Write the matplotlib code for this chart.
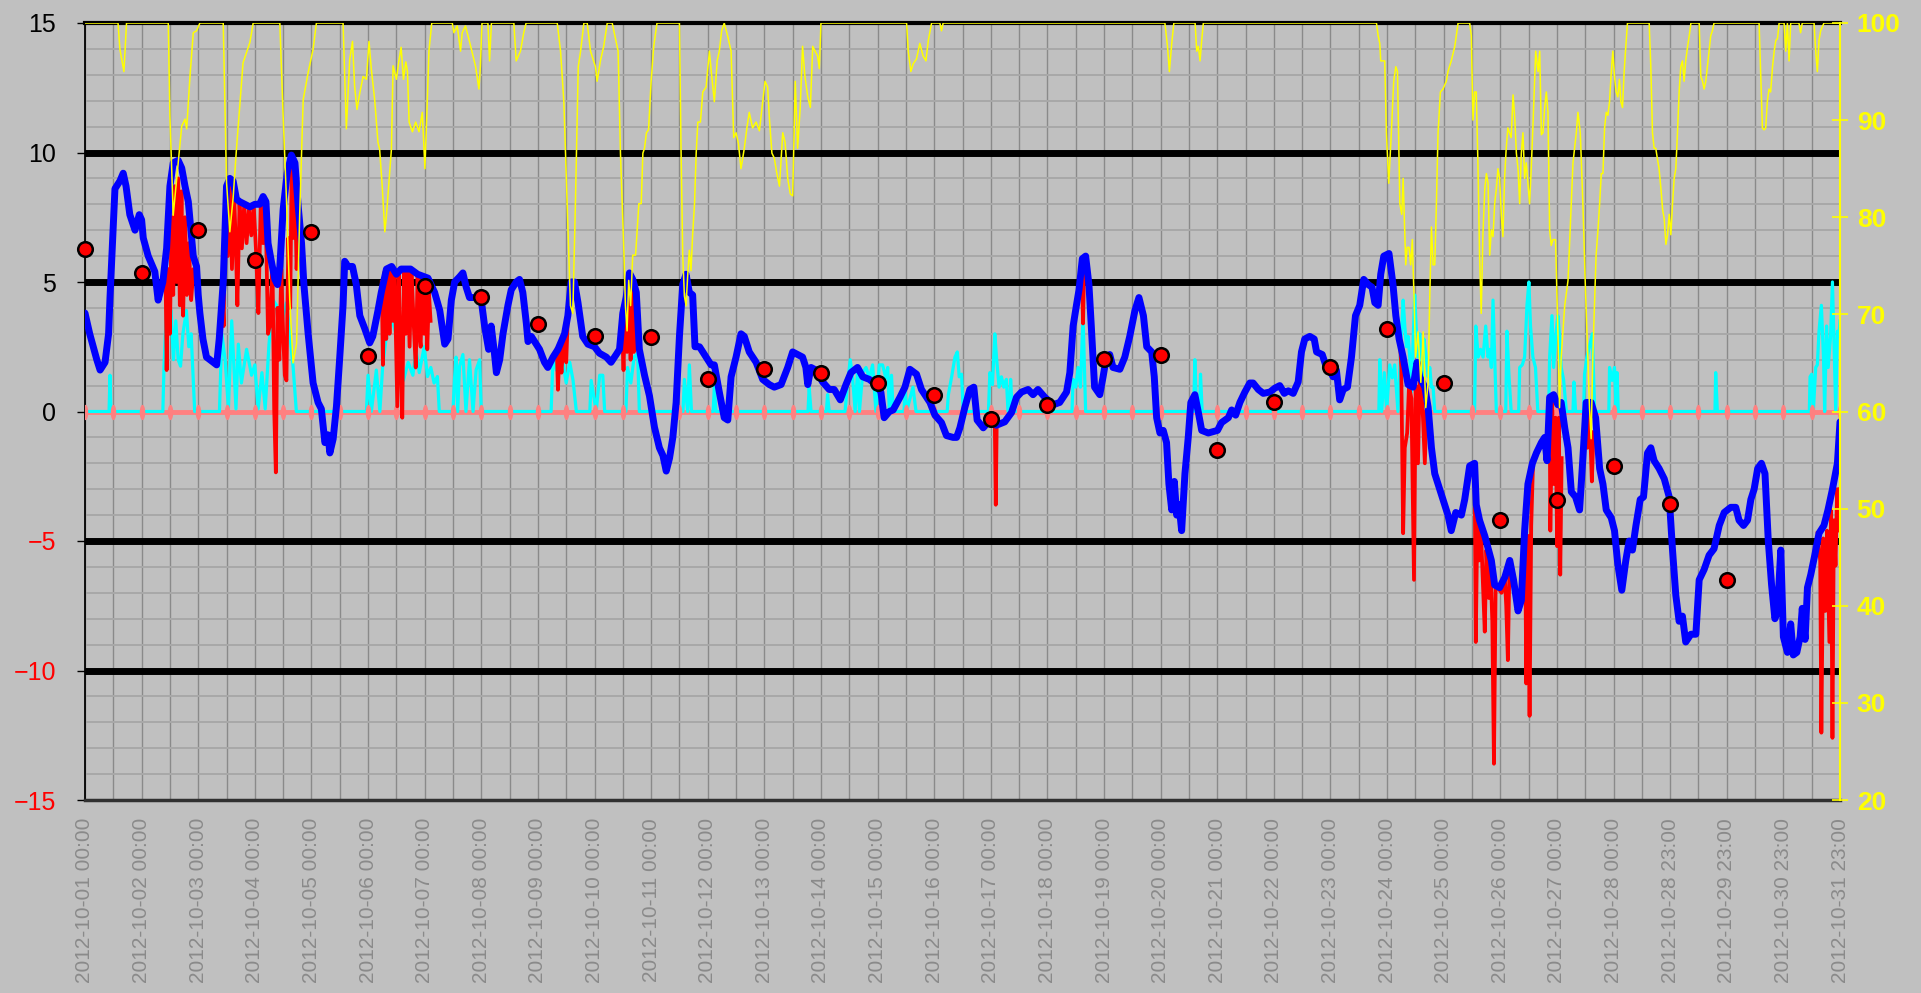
import numpy as np
import matplotlib
matplotlib.use('Agg')
from matplotlib import pyplot as plt
from matplotlib.path import Path

plt.rcParams['font.family'] = ['Liberation Sans', 'DejaVu Sans']

# x values are hours since 2012-10-01 00:00 (31 daily ticks, 744 h)
tick_labels = ['2012-10-%02d 00:00' % d for d in range(1, 29)] + \
    ['2012-10-28 23:00', '2012-10-29 23:00', '2012-10-30 23:00', '2012-10-31 23:00']

# daily mean (red dots)
daily_mean = [6.26, 5.36, 7.02, 5.84, 6.92, 2.15, 4.84, 4.42, 3.38, 2.91, 2.86, 1.25, 1.63, 1.49, 1.11,
              0.64, -0.30, 0.26, 2.01, 2.20, -1.49, 0.36, 1.73, 3.19, 1.11, -4.18, -3.42, -2.10, -3.56, -6.49]

# blue temperature
blue = [(0,3.8),(2,3.0),(5,2.0),(6.4,1.6),(8.5,1.9),(10,3.0),(10.6,4.4),(12.7,8.6),(14.8,8.9),(16.2,9.2),(17.4,8.7),
        (19,7.6),(21.2,7.0),(23,7.6),(24,7.4),(24.7,6.7),(26.8,6.0),(29.6,5.4),(31,4.3),(33,5.0),(34.6,6.3),(36,8.7),
        (37.4,9.6),(39.5,9.7),(41,9.4),(42.4,8.7),(43.8,8.1),(45.9,6.0),(47.3,5.6),(48,4.5),(48.7,3.8),(50,2.8),
        (51.5,2.1),(54.4,1.9),(55.8,1.8),(56.9,2.8),(57.9,4.1),(58.6,5.0),(60,8.7),(61.4,9.0),(62.8,8.9),(64.2,8.2),
        (65.6,8.1),(69.9,7.9),(72,8.0),(74,8.0),(75.5,8.3),(76.7,8.1),(77.6,6.5),(79,5.8),(80.5,5.1),(81.6,4.9),
        (82.6,5.6),(84,7.8),(85.7,9.2),(87.5,9.9),(89,9.6),(90.4,7.9),(91.8,6.5),(92.8,4.9),(94.6,3.0),(96.7,1.1),
        (98.8,0.35),(100.2,0.1),(101.7,-1.2),(103,-0.9),(103.8,-1.6),(105.2,-1.06),(106.6,0.2),(108,2.1),(109.4,4.1),
        (110.1,5.8),(111.5,5.6),(113.4,5.6),(115,4.9),(116.5,3.7),(118.6,3.2),(120.7,2.65),(122,2.9),(124.2,3.9),
        (125.6,4.6),(127.8,5.5),(130,5.6),(132,5.3),(134,5.5),(138,5.5),(141,5.3),(145.4,5.15),(148.2,4.6),(150.4,3.9),
        (152.5,2.6),(153.9,2.8),(155.3,4.3),(156.7,5.0),(158.8,5.2),(160.2,5.35),(161.6,4.8),(163,4.4),(165.2,4.4),
        (168,4.3),(169.4,3.3),(171.1,2.4),(172.2,3.3),(173.4,2.4),(174.4,1.5),(175.8,2.0),(177.2,3.0),(179.3,4.1),
        (180.7,4.7),(182.8,5.0),(184.2,5.1),(185.6,4.6),(187.1,3.4),(187.8,2.7),(189.2,2.9),(190.6,2.7),(192.7,2.4),
        (194.8,1.9),(196.2,1.7),(198.4,2.1),(200.5,2.4),(203.3,3.0),(204.7,3.7),(206.1,5.0),(207.5,5.0),(209,4.2),
        (211,2.9),(213.2,2.6),(216,2.5),(218.1,2.25),(221,2.1),(223,1.9),(225.2,2.2),(226.6,2.4),(228,3.8),(229.4,4.4),
        (230.8,5.35),(232.2,5.1),(233.7,4.6),(235,2.4),(237.2,1.4),(239.3,0.6),(241.4,-0.6),(243.5,-1.4),(245,-1.7),
        (246.4,-2.3),(247.8,-1.8),(249.2,-1.0),(250.6,0.35),(252,2.9),(253.4,4.9),(254.8,5.3),(256.2,4.6),(257.6,4.5),
        (258.6,2.5),(260.5,2.5),(261.9,2.3),(263.3,2.1),(265.4,1.8),(266.8,1.8),(268.9,0.75),(271,-0.24),(272.5,-0.33),
        (273.9,1.34),(276,2.1),(278.1,3.0),(279.5,2.9),(281.6,2.3),(284.5,1.9),(287.3,1.24),(290.1,1.04),(292.2,0.94),
        (295.1,1.04),(297.9,1.7),(300,2.3),(302.1,2.2),(304.2,2.1),(305.6,1.7),(306.4,1.04),(307.8,1.7),(309.9,1.6),
        (312.7,1.14),(315.5,0.85),(317.6,0.85),(320.2,0.45),(322.6,1.04),(324.7,1.5),(327.5,1.7),(329.7,1.34),
        (332.5,1.24),(335.3,1.04),(337.4,0.75),(338.8,-0.24),(341,0.0),(342.6,0.06),(345.5,0.55),(347.6,0.94),
        (349.7,1.63),(352.5,1.44),(354.6,0.85),(358.2,0.35),(360.3,-0.14),(363.1,-0.43),(365.2,-0.93),(368,-1.0),
        (369.5,-1.0),(370.9,-0.63),(373,0.16),(375.1,0.85),(376.8,0.94),(378.2,-0.33),(380.8,-0.63),(383.6,-0.33),
        (386.4,-0.53),(389.9,-0.4),(392.8,-0.04),(394.9,0.55),(397,0.75),(399.8,0.85),(401.9,0.65),(404,0.85),
        (406.9,0.55),(410.4,0.26),(413.2,0.35),(416.1,0.75),(417.5,1.5),(418.9,3.3),(420.3,4.1),(421.4,4.7),
        (422.8,5.9),(424.2,6.0),(425.6,4.9),(426.6,3.3),(428,0.94),(430.2,0.65),(431.6,1.34),(433,2.1),(434.4,2.2),
        (435.8,1.7),(438.7,1.63),(440.8,2.1),(442.9,2.9),(445.1,3.9),(446.8,4.4),(448.7,3.7),(450.1,2.5),(452.2,2.3),
        (453.3,1.34),(454.3,-0.24),(455.7,-0.83),(457.1,-0.73),(458.5,-1.2),(459.5,-2.8),(460.7,-3.8),(461.8,-2.7),
        (462.8,-4.0),(463.8,-3.6),(464.9,-4.6),(466.3,-2.4),(467.7,-1.0),(468.8,0.35),(470.5,0.65),(472,-0.04),
        (473.4,-0.73),(476.2,-0.83),(480.1,-0.73),(481.8,-0.43),(484.7,-0.24),(486.1,0.06),(487.8,-0.14),(489.6,0.35),
        (491.7,0.75),(493.8,1.1),(495.2,1.1),(497.4,0.85),(499.5,0.7),(502.3,0.75),(504.4,0.9),(506.5,1.0),(508.4,0.7),
        (510.1,0.8),(512.2,0.7),(514.3,1.14),(515.7,2.3),(517.1,2.8),(519.2,2.9),(521.1,2.8),(522.1,2.3),(524.5,2.2),
        (526.3,1.7),(527.7,1.6),(529.1,1.34),(530.5,1.6),(531.9,0.45),(533.4,0.85),(535.2,0.94),(536.9,2.1),
        (538.6,3.7),(540.4,4.1),(542.1,5.1),(544,4.9),(545.6,4.8),(546.8,4.2),(548.2,4.1),(549.3,5.3),(550.6,6.0),
        (552.8,6.1),(554.5,4.9),(555.7,3.7),(557.1,2.8),(558.8,2.1),(560.9,1.04),(563,0.94),(564.7,1.9),(565.8,1.34),
        (568,0.94),(569.4,0.16),(570.8,-1.4),(572.2,-2.4),(574.3,-3.0),(576.4,-3.6),(577.8,-4.0),(579.2,-4.6),
        (581.1,-3.9),(583.5,-4.0),(584.9,-3.4),(587,-2.1),(589.1,-2.0),(589.8,-3.6),(591.2,-4.2),(593.4,-4.8),
        (596.2,-5.75),(597.6,-6.7),(599.7,-6.8),(601.9,-6.4),(604,-5.75),(605.6,-6.5),(607.5,-7.7),(608.9,-7.3),
        (610.3,-4.6),(611.7,-2.8),(613.6,-2.0),(615.3,-1.6),(617.4,-1.2),(618.8,-1.0),(619.8,-1.9),(620.9,0.55),
        (622.6,0.65),(624.4,0.26),(625.8,0.35),(627.3,-0.63),(628.7,-1.4),(630.1,-3.1),(631.9,-3.3),(633.6,-3.8),
        (635,-1.8),(636.4,0.35),(638.5,0.35),(640.4,-0.24),(642.1,-2.2),(643.5,-2.8),(644.9,-3.8),(647,-4.1),
        (648.4,-4.6),(649.8,-5.9),(651.5,-6.9),(653.2,-5.75),(654.6,-5.0),(656,-5.35),(657.5,-4.4),(659.3,-3.4),
        (660.7,-3.3),(662.4,-1.6),(663.8,-1.4),(665.2,-1.9),(667.3,-2.2),(669.5,-2.6),(671.6,-3.3),(673,-5.35),
        (674.4,-7.1),(675.8,-8.1),(677.2,-7.9),(678.6,-8.9),(680.8,-8.6),(682.9,-8.6),(684.3,-6.5),(686.4,-6.1),
        (688.5,-5.55),(690.6,-5.3),(692.8,-4.4),(694.9,-3.9),(697.7,-3.7),(699.8,-3.7),(701.2,-4.2),(703.1,-4.4),
        (704.8,-4.2),(706.2,-3.4),(707.6,-3.0),(709.1,-2.2),(710.7,-2.0),(712.2,-2.4),(713.6,-5.0),(715,-6.7),
        (716.4,-8.0),(717.5,-7.7),(718.9,-5.35),(720,-8.7),(721.7,-9.3),(723.1,-8.2),(724.2,-9.4),(725.7,-9.3),
        (727.1,-8.7),(728,-7.6),(729.2,-8.8),(730.2,-6.8),(731.6,-6.3),(733.3,-5.55),(735.1,-4.7),(737.2,-4.4),
        (738.9,-3.8),(740.8,-3.0),(742.9,-2.0),(744,-0.4)]

# cyan series (mostly zero with spikes)
cyan = [(0,0),(10.2,0),(10.6,1.4),(11,0),(33,0),(33.5,1.75),(34.5,3.9),(35.5,3.0),(36.5,3.9),(37.5,2.0),(38.5,3.5),
        (39.5,2.0),(40.5,1.75),(41.5,3.0),(43,3.9),(44,2.5),(45,3.0),(46.5,0),(57,0),(58,3.0),(59.4,2.0),(60.8,0.1),
        (62.2,3.5),(64,0.1),(65,2.6),(66.3,1.1),(68.5,2.4),(70.6,1.4),(72,1.8),(73.4,0.1),(75,1.5),(76.4,0.1),(78,2.6),
        (79.8,4.3),(81.2,4.1),(82.6,2.8),(84,3.7),(85.4,4.2),(86.8,3.0),(88.2,1.75),(89.6,0),(119.3,0),(120,1.4),
        (121.4,0),(123.5,1.6),(125,0),(126.2,1.75),(127.6,2.8),(129.7,3.7),(131.8,3.0),(133,2.8),(135,1.2),(137,1.9),
        (139,1.4),(140.3,2.4),(141.7,1.5),(143.8,2.5),(145.2,1.35),(146.6,1.7),(148,1.1),(149.4,1.35),(150.2,0),
        (156,0),(156.6,1.2),(157.3,2.1),(158,0),(158.8,1.75),(160.2,2.2),(161.5,0),(163,2.0),(164.5,0),(165.8,1.6),
        (167.3,2.0),(168,0),(197.6,0),(198.4,2.1),(199.8,1.6),(201.2,2.3),(202.6,1.9),(204,1.1),(205.5,1.9),
        (206.9,1.2),(208.3,0),(214,0),(214.6,1.2),(216.7,0),(218.2,1.4),(219.5,1.4),(220.3,0),(229.3,0),(230,1.7),
        (231.4,1.1),(232.8,2.1),(234.3,2.25),(235,0),(253.5,0),(254.1,1.24),(255.5,0),(256.2,1.8),(257.1,0),
        (266.3,0),(266.8,0.94),(267.5,0),(306.5,0),(307,0.94),(307.8,0),(314.3,0),(314.8,0.65),(315.5,0),(322.2,0),
        (323.3,1.1),(324.4,2.0),(325.4,1.3),(326.5,0),(327.6,1.7),(328.3,0),(329.7,1.5),(331.1,1.7),(332.5,1.3),
        (333.9,1.8),(335.3,0),(336.7,1.8),(338.1,1.8),(339.5,1.3),(340.3,1.7),(341,0),(341.9,1.4),(342.6,0),
        (347.2,0),(347.6,0.94),(348.3,0),(351,0.94),(352.3,0),(365.5,0),(366,0.65),(367.4,1.34),(368.8,2.1),
        (369.8,2.3),(370.6,1.34),(371.6,1.44),(372.3,0),(383,0),(383.6,1.5),(384.7,1.04),(385.7,3.0),(386.4,2.1),
        (387.5,0.94),(388.5,1.34),(389.5,0.94),(390.6,1.24),(391.3,0),(392,0),(392.4,1.24),(393.1,0),(418.4,0),
        (418.9,1.24),(420,0.94),(421,1.7),(422,0.94),(423.1,3.7),(424.2,0),(470,0),(470.5,2.0),(471.2,0),(472.5,0),
        (472.9,1.44),(473.6,0),(548.5,0),(548.9,2.0),(549.7,0),(550.8,1.5),(551.8,0),(553.1,1.8),(554.2,1.3),
        (555.2,1.8),(556.6,0),(557.6,2.1),(558.8,4.3),(559.5,3.3),(560.2,2.5),(560.9,2.9),(561.6,2.1),(562.3,0.75),
        (563.7,4.5),(564.4,3.1),(565.1,2.1),(565.8,3.0),(567,1.14),(567.6,2.8),(568.6,2.1),(569.4,1.34),(570.1,1.7),
        (570.8,0.94),(571.5,0.94),(572.2,0),(589.1,0),(589.6,3.3),(590.6,2.1),(591.6,2.4),(592.7,2.1),(593.8,3.3),
        (594.8,2.1),(595.5,2.4),(596.2,1.7),(596.9,4.3),(597.6,2.1),(598.3,0),(602.3,0),(602.8,3.1),(603.7,1.34),
        (604.6,0),(607.8,0),(608.2,1.7),(609.3,1.8),(610.3,2.1),(611.3,4.1),(612.1,5.0),(612.8,3.3),(613.8,2.1),
        (614.9,1.7),(615.9,0),(620.5,0),(620.9,2.1),(621.9,3.7),(622.6,1.7),(623.7,3.1),(624.4,3.7),(625.1,2.9),
        (625.8,1.7),(626.8,1.24),(628,0),(630.8,0),(631.2,1.14),(631.9,0),(635.3,0),(635.7,1.44),(636.7,2.1),
        (637.8,2.5),(639,3.0),(640,0),(646,0),(646.3,1.7),(647.4,1.2),(648.4,1.7),(649.1,0),(649.5,1.5),(650,0),
        (691,0),(691.3,1.5),(692,0),(731,0),(731.3,1.34),(732,1.44),(732.7,0),(733.7,1.7),(734.4,1.8),(735.1,3.1),
        (736.1,4.1),(737,2.1),(737.5,0),(738.3,3.3),(739,1.7),(740,2.9),(740.8,5.0),(741.5,2.5),(742.2,0),
        (742.9,3.1),(743.5,2.9),(744,3.5)]

# red series, only present in some periods
red_segments = [
    [(34.2,5.0),(34.6,1.6),(35.3,5.5),(36,3.0),(36.7,7.5),(37.4,4.5),(38.1,8.7),(38.8,5.0),(39.5,9.0),(40.2,4.1),
     (40.9,8.5),(41.6,3.7),(42.4,7.5),(43.2,4.5),(44,6.5),(45,4.3),(46,5.5),(47,5.0)],
    [(58.3,4.5),(58.8,3.3),(59.5,8.5),(60.5,6.0),(61.4,8.8),(62.3,5.5),(63.2,8.5),(64,6.2),(64.6,4.1),(65.5,8.0),
     (66.5,6.3),(67.5,8.0),(68.5,6.5),(69.5,7.8),(70.5,6.8),(71.5,8.0),(72.5,6.2),(73.5,3.8),(74.5,8.0),(75.5,6.5),
     (76.5,8.0),(77.6,3.0),(78.3,3.3),(79.5,5.5),(80.2,0.1),(80.9,-2.35),(81.6,4.0),(82.4,2.0),(83.2,5.5),(84,3.0),
     (84.7,1.4),(85.4,1.2),(86.2,6.7),(87,4.0),(87.6,9.5),(88.3,6.7),(89,8.8),(89.7,5.5),(90.4,7.0)],
    [(125.8,5.0),(126.3,1.8),(127,5.4),(127.7,2.8),(128.4,5.5),(129.1,3.0),(129.8,5.6),(130.5,3.5),(131.2,5.5),
     (131.9,2.5),(132.4,0.2),(133,5.3),(133.8,2.0),(134.5,-0.24),(135.2,5.4),(136,3.0),(136.8,5.5),(137.6,2.5),
     (138.4,5.5),(139.3,3.5),(140.2,1.7),(141,5.3),(141.7,3.0),(142.3,2.5),(143,5.2),(143.8,3.0),(144.5,5.1),
     (145.1,2.4),(145.8,4.6),(146.5,3.5)],
    [(200,2.4),(200.5,0.84),(201.2,2.5),(202,1.5),(203,3.0),(204,1.9),(204.7,3.7)],
    [(227.5,3.7),(228.3,1.6),(229,4.4),(229.8,2.3),(230.5,5.2),(231.3,2.0),(232,5.2),(232.7,2.3),(233.5,4.6)],
    [(385.7,-0.5),(386.1,-3.6),(386.5,-0.5)],
    [(422.6,5.6),(423.1,3.4),(423.6,5.8)],
    [(557.4,2.8),(558,1.7),(558.8,-4.7),(559.5,-1.4),(560.5,-0.83),(561.3,1.0),(562.3,0.5),(563.4,-6.5),(564.1,1.0),
     (565.1,-2.0),(565.8,1.2),(567,0.2),(568,-2.0),(568.7,0.0)],
    [(589.1,-2.0),(589.6,-8.9),(590.3,-3.8),(591,-5.75),(591.7,-4.3),(592.4,-6.1),(593.4,-8.5),(594.1,-5.35),
     (595.1,-7.2),(595.8,-5.9),(596.6,-8.1),(597.3,-13.6),(598,-6.8),(599,-6.8),(600.5,-7.0),(601.9,-6.4),
     (602.5,-7.5),(603.2,-9.6),(603.9,-5.75)],
    [(610.5,-4.6),(611,-10.5),(611.7,-4.8),(612.4,-11.75),(613.1,-4.4),(613.8,-2.2)],
    [(620.9,0.5),(621.2,-4.6),(622,0.35),(622.6,-2.8),(623.4,-0.24),(624.1,-5.2),(624.8,-0.24),(625.4,-6.3),(626,-1.8)],
    [(636.2,0.3),(636.9,-1.4),(637.8,0.0),(638.8,-2.7),(639.5,-0.8)],
    [(734.5,-4.7),(735.6,-5.75),(736.1,-12.4),(736.9,-4.9),(737.8,-7.7),(738.5,-4.6),(739.5,-8.9),(740.2,-3.8),
     (740.8,-12.6),(741.4,-4.2),(742.1,-5.95),(742.8,-3.0),(743.5,-4.6),(744,-3.0)],
]

# yellow humidity (right axis, %)
humidity = [(0,100),(14,100),(14.8,97.3),(16.5,95.0),(17.6,100),(35.3,100),(36,90.4),(37.4,80.2),(38.1,82),
            (41,89.4),(42.4,90.1),(43.1,89.1),(44.5,94.5),(45.9,99),(47.3,99.2),(48.7,100),(58.6,100),(60,83.6),
            (61.4,78.5),(62.8,82),(64.2,87),(67,95.9),(68.5,97),(69.9,98),(71.3,100),(82.6,100),(84,90.4),
            (85.4,81.9),(86.8,71.5),(88.2,65),(89.7,67),(91,80.2),(92.5,92.1),(94.6,94.9),(96.7,97.3),(98.1,100),
            (109.4,100),(110.8,89.1),(112.2,96.2),(113.4,98.1),(114.3,93.5),(115.3,91.1),(116.5,92.8),(117.9,94.5),
            (119.3,94.2),(120.4,98.1),(121.4,95.2),(122.8,92.1),(124.2,87.7),(124.9,87),(126,83.2),(127.1,78.5),
            (127.8,80.2),(129.9,87),(130.6,95.6),(132,94.2),(133,96),(134,97.5),(135,94.2),(136,96),(136.7,95),
            (137.4,89.8),(138.8,88.8),(140.2,89.8),(141.6,88.8),(143,90.8),(144.1,85),(145.1,91.9),(145.8,97.1),
            (147,100),(155.7,100),(156.4,99),(157.8,99.7),(159.2,97.1),(159.9,99),(161.3,99.7),(163.5,97.6),
            (165.6,95.5),(167,93.2),(167.6,95.5),(168.3,100),(170.8,100),(171.5,96.1),(172.3,100),(181.8,100),
            (182.8,96.1),(184.6,97.1),(186,99),(187,100),(200.2,100),(201.6,97.1),(203,91.9),(204.4,81.4),
            (205.8,70.9),(206.8,70.1),(207.9,81.4),(209.1,95.5),(210.1,97.1),(211.5,100),(212.9,100),(214.3,97.1),
            (216.4,95.5),(217.1,94),(218.5,96.1),(219.9,97.6),(221.4,100),(223.5,100),(224.9,98.4),(226,97.1),
            (227,86.6),(228.5,76.1),(229.1,70.9),(229.8,68.3),(230.5,73.5),(231.3,70.9),(232.2,76.1),(233.4,76.1),
            (234.8,81.4),(235.8,81.4),(236.5,86.6),(237.2,87.1),(238,88.7),(238.9,89),(240,94),(241.1,97.6),
            (242.5,100),(252,100),(252.7,86.6),(253.4,76.1),(254.1,71.9),(254.8,70.9),(255.5,74),(256.2,76.6),
            (256.9,74.5),(257.6,78.2),(258.4,81.4),(259.1,86.6),(259.8,89.8),(260.9,89.8),(261.9,92.9),(263.3,93.4),
            (264.7,97.1),(265.7,94.5),(266.8,91.9),(268,96.1),(268.9,97.1),(269.9,99.2),(271,100),(272.4,98.7),
            (273.9,97.1),(275,88.2),(276,88.7),(277,87.6),(278.1,85),(279.5,87.1),(280.6,89.2),(281.6,90.8),
            (283,89.2),(284.5,89.8),(285.9,88.9),(287.3,91.9),(288.3,94),(289.4,93.4),(290.1,90.3),(291.2,86.6),
            (292.2,86.1),(293.3,84.5),(294.4,83.2),(295.8,88.7),(296.8,87.7),(297.9,84),(299,82.4),(300,82.2),
            (301.1,94),(302.1,87.1),(303.2,91.3),(304.2,97.6),(305.2,94.5),(306.4,92.4),(307.5,91.3),(308.5,97.6),
            (309.5,97.1),(310.6,96.6),(311.3,95.3),(312,100),(348.3,100),(349,97.1),(350.1,95),(351.1,95.8),
            (352.5,96.3),(353.9,97.9),(355.3,96.6),(356.5,96.1),(357.5,98.2),(358.9,100),(362.4,100),(363.1,99.2),
            (363.8,100),(457.8,100),(458.9,97.6),(459.7,95),(460.7,97.9),(461.6,100),(470.6,100),(471.3,97.1),
            (472,97.6),(472.7,96.1),(473.4,98.2),(474.1,100),(547.5,100),(548.2,98.7),(548.9,97.9),(549.3,96.1),
            (551,96.1),(551.7,88.7),(552.7,83.5),(553.8,88.7),(554.8,94),(555.7,95.5),(556.4,95),(557.4,81.4),
            (558.2,80.3),(558.8,84),(559.5,78.2),(559.9,75.1),(560.5,76.9),(561.3,76.9),(562,75.1),(562.7,77.7),
            (563.4,71.9),(564.1,65.6),(565.1,68.2),(566.3,63),(567.3,68.2),(568.4,60.4),(569.4,63),(570,70.9),
            (570.8,79),(571.5,75.1),(572.2,75.1),(572.9,81.4),(573.6,88.7),(574.6,92.9),(575.7,93.2),(577.1,94),
            (577.8,95),(579.2,96.1),(580.7,97.6),(582.1,100),(587,100),(587.7,98.7),(588.4,90),(589.1,92.9),
            (589.8,92.9),(590.5,85.6),(591.2,76.1),(591.9,70.1),(592.6,78),(593.4,82.9),(594.1,84.5),(594.8,83.5),
            (595.5,76.1),(596.2,78.7),(596.9,78),(597.6,81.4),(598.3,82.9),(599,85),(599.7,84),(600.4,80.3),
            (601.1,78),(601.8,84),(602.5,87.1),(603.2,89.2),(603.9,88.7),(604.6,88.2),(605.4,92.6),(606.1,90.3),
            (606.8,86.6),(607.5,85),(608.2,81.4),(608.9,86.6),(609.6,88.7),(610.3,84),(611,85.6),(611.7,83.5),
            (612.4,81.4),(613.1,85),(613.8,89.2),(615,97.1),(616,95),(616.7,97.1),(617.4,88.5),(618.1,88.7),
            (618.8,91.3),(619.5,92.9),(620.2,90.8),(620.9,78.7),(621.6,77.1),(622.3,77.7),(623.4,77.7),(624.4,68.3),
            (625.1,60.4),(625.8,65.6),(627.3,70.9),(628.7,73.5),(630.1,81.4),(630.8,85.6),(631.5,87.1),(632.2,88.7),
            (632.9,90.8),(633.9,88.7),(635,81.4),(636.1,72.5),(637.1,65.6),(637.8,60.4),(638.5,57.2),(639.2,65.6),
            (639.9,70.9),(640.6,76.1),(641.4,78.7),(642.1,81.4),(642.8,84.5),(643.5,84.5),(644.2,89.2),(644.9,90.8),
            (645.6,90.5),(646.3,91.9),(647,94.8),(647.7,97.1),(648.4,94.5),(649.1,92.9),(649.8,92.4),(650.5,94.2),
            (651.1,91.9),(651.8,91.3),(652.5,95),(653.2,97.6),(653.9,100),(663.1,100),(663.8,95.5),(664.5,88.7),
            (665.2,87.1),(665.9,87.1),(666.6,86),(667.3,85),(668.1,82.9),(668.8,80.8),(669.5,79.8),(670.2,77.2),
            (670.9,78.2),(671.6,80.3),(672.3,78.2),(673,81.4),(673.7,84),(674.4,85),(675.1,88.7),(675.8,92.9),
            (676.5,95.5),(677.2,96.1),(677.9,94),(678.6,96.1),(679.4,97.6),(680.1,98.7),(680.8,100),(684.3,100),
            (685,94.5),(685.7,94),(686.4,93.2),(687.1,94),(687.8,95.5),(688.5,97.1),(689.2,98.7),(689.9,99.2),
            (690.6,100),(709.7,100),(710.4,94.5),(711.1,89.2),(711.8,89),(712.5,89.2),(713.2,91.9),(713.9,93.2),
            (714.6,92.9),(715.4,95.5),(716.1,97.1),(716.8,98.2),(717.5,98.4),(718.2,100),(720.3,100),(721,97.1),
            (721.7,100),(722.4,96.1),(723.1,100),(726.6,100),(727.3,99),(728,100),(733,100),(733.7,97.1),
            (734.4,95),(735.1,98.2),(735.8,99.2),(737.2,100),(744,100)]


BG = '#c0c0c0'
fig = plt.figure(figsize=(19.21, 9.93), dpi=100, facecolor=BG)
ax = fig.add_axes([85 / 1921, 1 - 800 / 993, 1755 / 1921, 777 / 993])
ax.set_facecolor(BG)
ax.set_xlim(0, 744)
ax.set_ylim(-15, 15)

# grid
tick_h = np.arange(0, 745, 24)
ax.set_xticks(tick_h)
ax.set_xticklabels(tick_labels, rotation=90)
ax.set_xticks(np.arange(12, 745, 24), minor=True)
ax.set_yticks(range(-15, 16, 5))
ax.set_yticks(range(-15, 16), minor=True)
ax.grid(axis='x', which='both', color='#8a8a8a', lw=1.0, zorder=1)
ax.grid(axis='y', which='minor', color='#a8a8a8', lw=1.4, zorder=1)
for yv in [-10, -5, 5, 10]:
    ax.axhline(yv, color='black', lw=5, zorder=2)
ax.axhline(15, color='black', lw=3, zorder=2, clip_on=False)
ax.axhline(-15, color='black', lw=2, zorder=2, clip_on=False)

# pink zero line, with markers every 12 h drawn over the cyan baseline
t = np.linspace(0, 2 * np.pi, 40)
ellipse = Path(np.column_stack([0.36 * np.cos(t), np.sin(t)]))
marks_h = np.arange(0, 745, 12)
ax.plot(marks_h, np.zeros(len(marks_h)), color='#ff8080', lw=3.5, zorder=3)
ax.plot(marks_h, np.zeros(len(marks_h)), ls='none', marker=ellipse, ms=11, mfc='#ff8080', mec='none', zorder=4.5)

ax.plot([p[0] for p in cyan], [p[1] for p in cyan], color='cyan', lw=2.3, zorder=4)

red_h, red_v = [], []
for seg in red_segments:
    red_h += [p[0] for p in seg] + [np.nan]
    red_v += [p[1] for p in seg] + [np.nan]
ax.plot(red_h, red_v, color='red', lw=2.7, zorder=5)

ax.plot([p[0] for p in blue], [p[1] for p in blue], color='blue', lw=5, zorder=6,
        solid_joinstyle='round', solid_capstyle='round')

# axis styling
for s in ['top', 'right']:
    ax.spines[s].set_visible(False)
ax.spines['left'].set_color('black')
ax.spines['left'].set_linewidth(1.3)
ax.spines['bottom'].set_color('#303030')
ax.spines['bottom'].set_linewidth(2.5)
ax.tick_params(axis='y', which='major', direction='out', length=6, width=1, color='black', labelsize=18, pad=15)
ax.tick_params(axis='y', which='minor', length=0)
ax.tick_params(axis='x', which='both', length=0, labelsize=15, labelcolor='#8a8a8a', pad=13)
for lbl, yv in zip(ax.get_yticklabels(), range(-15, 16, 5)):
    lbl.set_color('red' if yv < 0 else 'black')

# right axis: humidity
ax2 = ax.twinx()
ax2.set_ylim(20, 100)
ax2.plot([p[0] for p in humidity], [p[1] for p in humidity], color='yellow', lw=1.1, zorder=3)
ax2.plot(tick_h[:len(daily_mean)], daily_mean, 'o', transform=ax.transData, ms=10.5, mfc='red',
         mec='black', mew=1.8, zorder=5, clip_on=False)
ax2.set_yticks(range(20, 101, 10))
ax2.tick_params(axis='y', direction='inout', length=12, width=1.2, color='yellow', labelcolor='yellow',
                labelsize=19, pad=6)
for lbl in ax2.get_yticklabels():
    lbl.set_fontweight('bold')
for s in ['top', 'left', 'bottom']:
    ax2.spines[s].set_visible(False)
ax2.spines['right'].set_color('yellow')
ax2.spines['right'].set_linewidth(1.5)

fig.savefig('out.png', dpi=100, facecolor=BG)
